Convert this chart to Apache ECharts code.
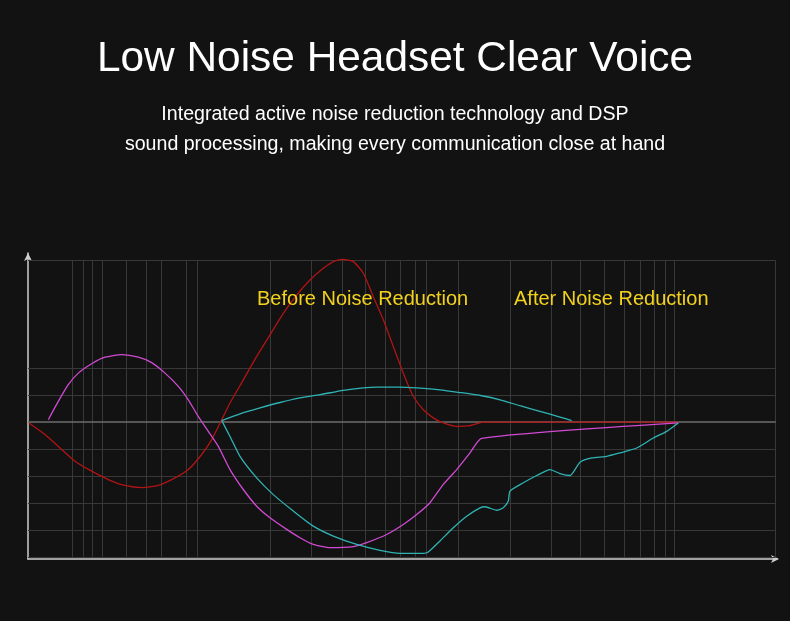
<!DOCTYPE html>
<html>
<head>
<meta charset="utf-8">
<title>Low Noise Headset Clear Voice</title>
<script src="https://cdn.jsdelivr.net/npm/echarts@6/dist/echarts.min.js"></script>
<style>
html,body{margin:0;padding:0;background:#121212;}
#chart{width:790px;height:621px;}
</style>
</head>
<body>
<div id="chart"></div>
<script>
// response curves, x = position along the band, y = level (10 per grid row)
var redPoints = [[1,-0.3],[17,-4.6],[30.3,-9.0],[47,-14.5],[63.7,-18.2],[80.3,-21.3],[97,-23.5],[113.7,-24.3],
    [130.3,-23.5],[147,-20.7],[160.3,-17.6],[173.7,-12.0],[183.7,-6.5],[193.7,0.9],[202,7.1],[215.3,15.7],
    [228.7,24.4],[242,32.4],[255.3,40.4],[268.7,47.2],[282,52.8],[295.3,57.1],[305.3,59.6],[315.3,60.4],
    [325.3,59.6],[335.3,55.3],[345.3,46.6],[355.3,38.0],[365.3,28.1],[375.3,18.2],[385.3,9.6],[395.3,4.6],
    [405.3,1.6],[415.3,-0.3],[428.7,-1.6],[442,-1.3],[452,-0.3],[453.7,0],[650.3,0]];
var magentaPoints = [[20.3,0.9],[30.3,7.7],[40.3,13.9],[50.3,18.2],[63.7,21.7],[77,24.1],[93.7,25.1],[110.3,24.1],
    [123.7,22.1],[137,18.2],[150.3,13.3],[160.3,8.3],[170.3,2.1],[180.3,-3.4],[190.3,-9.0],[202,-17.6],
    [215.3,-25.0],[228.7,-31.2],[242,-35.5],[258.7,-39.8],[272,-42.9],[285.3,-45.4],[302,-46.6],[325.3,-46.2],
    [338.7,-44.7],[358.7,-41.7],[375.3,-38.0],[388.7,-34.3],[402,-29.9],[415.3,-23.1],[428.7,-17.6],[442,-11.4],
    [453.7,-6.0],[650.3,-0.3]];
var cyanUpperPoints = [[193.7,0.6],[212,3.1],[232,5.3],[252,7.3],[272,9.0],[292,10.2],[315.3,11.8],[335.3,12.7],
    [348.7,13.0],[372,13.0],[388.7,12.7],[412,12.0],[432,11.0],[453.7,9.8],[472,8.3],[492,6.1],[512,4.0],
    [532,1.9],[543.7,0.6]];
var cyanLowerPoints = [[193.7,0.6],[202,-5.3],[212,-12.7],[228.7,-20.7],[245.3,-26.9],[265.3,-33.0],[285.3,-38.6],
    [305.3,-42.3],[328.7,-45.4],[352,-47.6],[372,-48.7],[395.3,-48.7],[400.3,-48.2],[412,-44.1],[425.3,-39.2],
    [438.7,-34.9],[452,-31.8],[457,-31.4],[468.7,-32.7],[475.3,-31.8],[480.3,-29.3],[482,-25.6],[495.3,-22.5],
    [508.7,-19.8],[522,-17.6],[532,-19.1],[542,-19.8],[552,-14.9],[563.7,-13.3],[578.7,-12.7],[592,-11.4],
    [608.7,-9.6],[625.3,-5.9],[638.7,-3.4],[650.3,-0.3]];

// grid lines
var gridX = [44.3,55.3,64.7,74.7,98,118,133.3,158.7,169.7,242.7,283.7,314.7,337.7,357,372,387,398.7,430.3,
    482,523.7,552,576,596.3,612,626,637,646.3,747.7];
var gridY = [60,20,10,-10,-20,-30,-40,-50];
var dividerX = 453.7;
var gridTop = 60, gridBottom = -50, gridRight = 747.7;

var titleText = 'Low Noise Headset Clear Voice';
var subLines = ['Integrated active noise reduction technology and DSP',
    'sound processing, making every communication close at hand'];
var beforeText = 'Before Noise Reduction';
var afterText = 'After Noise Reduction';

var gridLines = [];
gridX.forEach(function (x) {
    gridLines.push([{coord: [x, gridTop]}, {coord: [x, gridBottom]}]);
});
gridY.forEach(function (y) {
    gridLines.push([{coord: [0, y]}, {coord: [gridRight, y]}]);
});
var brightLines = [
    [{coord: [0, 0]}, {coord: [gridRight, 0]}],
    [{coord: [dividerX, gridTop]}, {coord: [dividerX, -51.5]}]
];

function curve(name, color, points) {
    return {
        name: name,
        type: 'line',
        data: points,
        showSymbol: false,
        smooth: 0.2,
        silent: true,
        z: 5,
        lineStyle: {color: color, width: 1.3}
    };
}

var chart = echarts.init(document.getElementById('chart'));
var option = {
    backgroundColor: '#121212',
    animation: false,
    grid: {left: 28, right: 13, top: 253, bottom: 62},
    xAxis: {
        type: 'value', min: 0, max: 749,
        axisLine: {onZero: false, symbol: ['none', 'arrow'], symbolSize: [6, 8], symbolOffset: [0, 2],
            lineStyle: {color: '#cfcfcf', width: 1.5}},
        axisTick: {show: false}, axisLabel: {show: false}, splitLine: {show: false}
    },
    yAxis: {
        type: 'value', min: -50.8, max: 62.8,
        axisLine: {onZero: false, symbol: ['none', 'arrow'], symbolSize: [6, 8],
            lineStyle: {color: '#cfcfcf', width: 1.5}},
        axisTick: {show: false}, axisLabel: {show: false}, splitLine: {show: false}
    },
    graphic: [
        {type: 'text', left: 'center', top: 38, style: {text: titleText, fill: '#ffffff',
            font: '42.4px "Liberation Sans", Arial, sans-serif'}},
        {type: 'text', left: 'center', top: 105, style: {text: subLines[0], fill: '#ffffff',
            font: '19.6px "Liberation Sans", Arial, sans-serif'}},
        {type: 'text', left: 'center', top: 135, style: {text: subLines[1], fill: '#ffffff',
            font: '19.6px "Liberation Sans", Arial, sans-serif'}},
        {type: 'text', left: 257, top: 289, z: 10, style: {text: beforeText, fill: '#f3d21c',
            font: '20px "Liberation Sans", Arial, sans-serif'}},
        {type: 'text', left: 514, top: 289, z: 10, style: {text: afterText, fill: '#f3d21c',
            font: '20px "Liberation Sans", Arial, sans-serif'}}
    ],
    series: [
        {
            type: 'line', data: [], silent: true, z: 1,
            markLine: {silent: true, symbol: 'none', label: {show: false}, animation: false,
                lineStyle: {color: '#383838', width: 1, type: 'solid'}, data: gridLines}
        },
        {
            type: 'line', data: [], silent: true, z: 2,
            markLine: {silent: true, symbol: 'none', label: {show: false}, animation: false,
                lineStyle: {color: '#6e6e6e', width: 1.5, type: 'solid'}, data: brightLines}
        },
        curve('red', '#b01414', redPoints),
        curve('magenta', '#d04ad2', magentaPoints),
        curve('cyanUpper', '#2fb3b3', cyanUpperPoints),
        curve('cyanLower', '#2fb3b3', cyanLowerPoints)
    ]
};
chart.setOption(option);
</script>
</body>
</html>
